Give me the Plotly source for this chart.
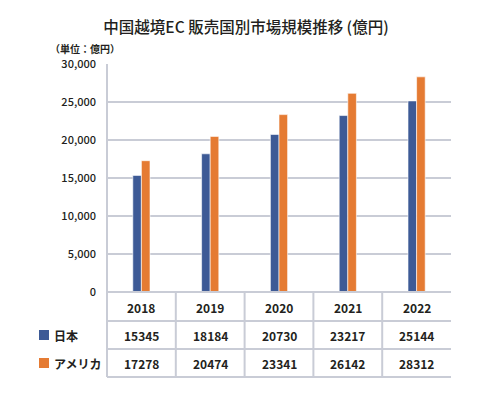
import plotly.graph_objects as go

years = ["2018", "2019", "2020", "2021", "2022"]
japan = [15345, 18184, 20730, 23217, 25144]
usa = [17278, 20474, 23341, 26142, 28312]
series_names = ["日本", "アメリカ"]
colors = ["#3d5a96", "#e57b33"]

W, H = 490, 398
L, R, T, B = 107, 39, 64, 106
PH = H - T - B
PW = W - L - R

def py(p):  # pixel y -> paper
    return (H - B - p) / PH

def px(p):  # pixel x -> paper
    return (p - L) / PW

FONT = "Noto Sans CJK JP"
TXT = "#231f20"
LINE = "#c9ccd6"

fig = go.Figure()
for name, vals, c in zip(series_names, [japan, usa], colors):
    fig.add_trace(go.Bar(x=years, y=vals, name=name, marker=dict(color=c, line=dict(width=0.6, color="white"))))

shapes = []
ann = []
row_y = [307, 335, 363]
tfont = dict(size=12, color=TXT, family=FONT)
for i, yr in enumerate(years):
    ann.append(dict(x=i, xref="x", y=py(row_y[0]), yref="paper", yanchor="middle", text=f"<b>{yr}</b>",
                    showarrow=False, font=tfont))
for r, vals in enumerate([japan, usa]):
    for i, v in enumerate(vals):
        ann.append(dict(x=i, xref="x", y=py(row_y[r + 1]), yref="paper", yanchor="middle", text=f"<b>{v}</b>",
                        showarrow=False, font=tfont))
    cy = row_y[r + 1]
    shapes.append(dict(type="rect", xref="paper", yref="paper", x0=px(39), x1=px(49), y0=py(cy - 5), y1=py(cy + 5),
                       fillcolor=colors[r], line=dict(width=0)))
    ann.append(dict(x=px(52), xref="paper", y=py(cy), yref="paper", xanchor="left", yanchor="middle",
                    text=f"<b>{series_names[r]}</b>", showarrow=False, font=tfont))

for yy in [292, 321, 349, 377]:
    shapes.append(dict(type="line", xref="paper", yref="paper", x0=0, x1=1, y0=py(yy), y1=py(yy),
                       line=dict(color=LINE, width=2)))
for k in range(len(years) - 1):
    shapes.append(dict(type="line", xref="x", yref="paper", x0=k + 0.5, x1=k + 0.5, y0=py(292), y1=py(377),
                       line=dict(color=LINE, width=2)))
shapes.append(dict(type="line", xref="paper", yref="paper", x0=0, x1=0, y0=1, y1=py(377),
                   line=dict(color=LINE, width=2)))

ann.append(dict(x=px(48), xref="paper", y=py(48), yref="paper", xanchor="left", yanchor="middle",
                text="<b>（単位：億円）</b>", showarrow=False, font=dict(size=10, color=TXT, family=FONT)))

fig.update_layout(
    width=W, height=H,
    margin=dict(l=L, r=R, t=T, b=B),
    paper_bgcolor="white", plot_bgcolor="white",
    title=dict(text="中国越境EC 販売国別市場規模推移 (億円)", x=246 / W, xref="container", xanchor="center",
               y=1 - 28 / H, yanchor="middle",
               font=dict(size=15.5, color=TXT, family=FONT, weight=500)),
    showlegend=False,
    barmode="group", bargap=0.75, bargroupgap=0,
    font=dict(family=FONT, color=TXT),
    xaxis=dict(type="category", range=[-0.5, 4.5], showticklabels=False, showgrid=False, showline=False,
               zeroline=False, fixedrange=True),
    yaxis=dict(range=[0, 30000], dtick=5000, tickformat=",d", showgrid=True, gridcolor=LINE, gridwidth=2,
               zeroline=False, showline=False, ticks="", ticklabelstandoff=10, automargin=False,
               tickfont=dict(size=11, color=TXT, family=FONT, weight=500)),
    shapes=shapes, annotations=ann,
)

fig.write_html("out.html", config={"displayModeBar": False},
               post_script="document.body.style.margin='0';")
